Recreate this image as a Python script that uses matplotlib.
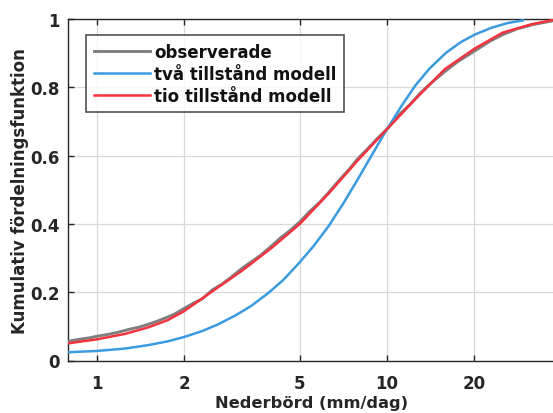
import matplotlib
matplotlib.use("Agg")
import matplotlib.pyplot as plt
from matplotlib.ticker import FixedLocator, FixedFormatter, NullLocator

# Observed (empirical CDF)
obs_x = [0.79, 0.87, 0.95, 1.0, 1.1, 1.2, 1.3, 1.4, 1.5, 1.6, 1.75, 1.85, 2.0, 2.15, 2.3,
         2.5, 2.7, 2.9, 3.16, 3.4, 3.65, 4.0, 4.3, 4.6, 5.0, 5.4, 5.9, 6.3, 6.9, 7.4, 7.9,
         8.5, 9.2, 10.0, 11.0, 12.0, 13.0, 14.2, 15.8, 17.5, 20.0, 22.5, 25.0, 28.0, 31.6, 37.3]
obs_y = [0.056, 0.062, 0.067, 0.071, 0.077, 0.084, 0.092, 0.098, 0.106, 0.114, 0.127, 0.136,
         0.153, 0.168, 0.180, 0.207, 0.224, 0.244, 0.270, 0.289, 0.307, 0.336, 0.360, 0.379,
         0.406, 0.436, 0.466, 0.493, 0.532, 0.560, 0.590, 0.617, 0.648, 0.678, 0.720, 0.750,
         0.783, 0.813, 0.846, 0.875, 0.906, 0.934, 0.954, 0.971, 0.983, 0.995]

# Two-state model
two_x = [0.79, 1.0, 1.25, 1.5, 1.75, 2.0, 2.3, 2.6, 3.0, 3.4, 3.9, 4.4, 5.0, 5.6, 6.3,
         7.1, 8.0, 9.0, 10.0, 11.2, 12.5, 14.0, 16.0, 18.0, 20.0, 23.0, 26.0, 29.4]
two_y = [0.024, 0.028, 0.035, 0.045, 0.056, 0.069, 0.086, 0.105, 0.132, 0.160, 0.198,
         0.237, 0.288, 0.337, 0.395, 0.463, 0.537, 0.612, 0.678, 0.745, 0.805, 0.855,
         0.902, 0.933, 0.954, 0.975, 0.988, 0.996]

# Ten-state model
ten_x = [0.79, 1.0, 1.25, 1.5, 1.75, 2.0, 2.5, 3.16, 4.0, 5.0, 6.3, 7.9, 10.0, 12.6,
         15.8, 20.0, 25.0, 31.6, 37.3]
ten_y = [0.050, 0.062, 0.078, 0.097, 0.118, 0.145, 0.203, 0.263, 0.330, 0.400, 0.490,
         0.585, 0.678, 0.768, 0.853, 0.913, 0.960, 0.985, 0.997]

x_ticks = [1, 2, 5, 10, 20]
x_tick_labels = ["1", "2", "5", "10", "20"]
y_ticks = [0, 0.2, 0.4, 0.6, 0.8, 1.0]
y_tick_labels = ["0", "0.2", "0.4", "0.6", "0.8", "1"]

labels = ["observerade", "två tillstånd modell", "tio tillstånd modell"]
colors = ["#7f7f7f", "#3b9be0", "#f5333f"]

plt.rcParams['font.family'] = ['DejaVu Sans']
fig = plt.figure(figsize=(5.53, 4.14), dpi=100)
ax = fig.add_axes([68 / 553, (414 - 361.5) / 414, (556 - 68) / 553, 341.5 / 414])

ax.plot(obs_x, obs_y, color=colors[0], lw=2.1, label=labels[0], zorder=3)
ax.plot(two_x, two_y, color=colors[1], lw=1.8, label=labels[1], zorder=4)
ax.plot(ten_x, ten_y, color=colors[2], lw=1.8, label=labels[2], zorder=5)

ax.set_xscale("log")
ax.set_xlim(0.794, 38.2)
ax.set_ylim(0, 1)
ax.xaxis.set_major_locator(FixedLocator(x_ticks))
ax.xaxis.set_major_formatter(FixedFormatter(x_tick_labels))
ax.xaxis.set_minor_locator(NullLocator())
ax.set_yticks(y_ticks)
ax.set_yticklabels(y_tick_labels)

ax.grid(True, color="#d9d9d9", lw=0.9)
ax.set_axisbelow(True)
ax.tick_params(direction="in", length=4, width=1.0, top=True, right=False,
               colors="#262626", labelsize=12, pad=6)
for lab in ax.get_xticklabels() + ax.get_yticklabels():
    lab.set_fontweight("bold")
ax.tick_params(axis="x", pad=10)
for s in ["left", "bottom", "top"]:
    ax.spines[s].set_color("#262626")
    ax.spines[s].set_linewidth(1.0)
ax.spines["right"].set_visible(False)

ax.set_xlabel("Nederbörd (mm/dag)", fontsize=11.7, fontweight="bold", color="#262626", labelpad=2)
ax.set_ylabel("Kumulativ fördelningsfunktion", fontsize=12, fontweight="bold", color="#262626", labelpad=1)

leg = ax.legend(loc="upper left", bbox_to_anchor=(0.037, 0.953), borderaxespad=0,
                frameon=True, fancybox=False, edgecolor="#262626",
                prop={"weight": "bold", "size": 12}, handlelength=3.4,
                handletextpad=0.22, labelspacing=0.24, borderpad=0.45)
leg.get_frame().set_linewidth(1.2)
for t in leg.get_texts():
    t.set_color("#111111")

fig.savefig("out.png", dpi=100)
